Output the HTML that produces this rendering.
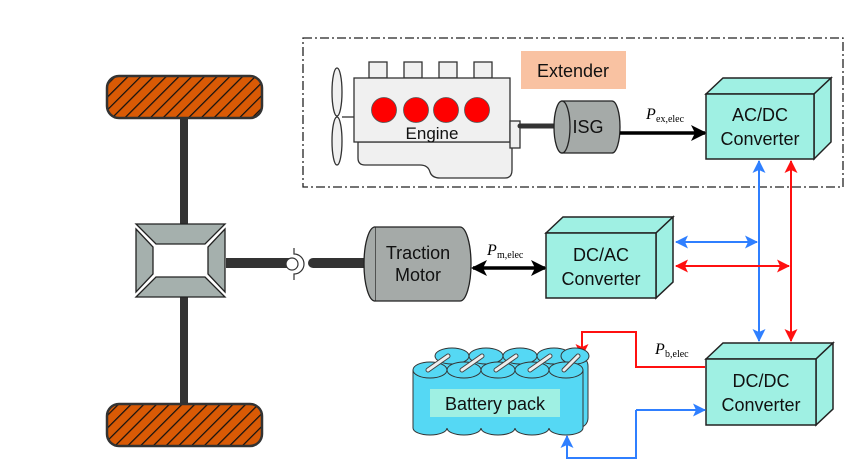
<!DOCTYPE html>
<html><head><style>body{margin:0;background:#fff}svg{display:block}text{font-family:"Liberation Sans",sans-serif}text.s{font-family:"Liberation Serif",serif}</style></head><body>
<svg width="850" height="468" viewBox="0 0 850 468" xmlns="http://www.w3.org/2000/svg">
<defs>
<pattern id="hatch" width="9" height="9" patternUnits="userSpaceOnUse" patternTransform="rotate(45)"><rect width="9" height="9" fill="#d95a05"/><line x1="0" y1="0" x2="0" y2="9" stroke="#111" stroke-width="2.5"/></pattern>
<marker id="akb" markerWidth="16" markerHeight="16" refX="14" refY="8" orient="auto-start-reverse" markerUnits="userSpaceOnUse"><path d="M0,0 L16,8 L0,16 L4,8Z" fill="#000"/></marker>
<marker id="ab" markerWidth="13" markerHeight="13" refX="12" refY="6.5" orient="auto-start-reverse" markerUnits="userSpaceOnUse"><path d="M0,0 L13,6.5 L0,13 L3,6.5Z" fill="#2f7fff"/></marker>
<marker id="ar" markerWidth="13" markerHeight="13" refX="12" refY="6.5" orient="auto-start-reverse" markerUnits="userSpaceOnUse"><path d="M0,0 L13,6.5 L0,13 L3,6.5Z" fill="#ff1010"/></marker>
</defs>
<rect x="303" y="38" width="540" height="149" fill="none" stroke="#222" stroke-width="1.3" stroke-dasharray="9,3,2,3"/>
<rect x="521" y="51" width="105" height="38" fill="#f9c2a2"/>
<text x="573" y="77" font-size="18" text-anchor="middle" fill="#111">Extender</text>
<g stroke="#333" stroke-width="1.3" fill="#f0f0f0">
<rect x="369" y="62" width="18" height="16"/><rect x="404" y="62" width="18" height="16"/><rect x="439" y="62" width="18" height="16"/><rect x="474" y="62" width="18" height="16"/>
<path d="M358,142 L358,158 Q358,165 365,165 L420,165 Q428,165 430,172 Q432,178 440,178 L505,178 Q512,178 512,170 L512,142Z"/>
<rect x="354" y="78" width="156" height="64"/>
<rect x="510" y="121" width="10" height="27"/>
<ellipse cx="337" cy="92" rx="5" ry="24"/><ellipse cx="337" cy="141" rx="5" ry="24"/>
<line x1="342" y1="117" x2="354" y2="117"/>
</g>
<g fill="#ff0000" stroke="#555" stroke-width="0.8"><circle cx="384" cy="110" r="12.5"/><circle cx="416" cy="110" r="12.5"/><circle cx="446" cy="110" r="12.5"/><circle cx="477" cy="110" r="12.5"/></g>
<text x="432" y="139" font-size="17" text-anchor="middle" fill="#111">Engine</text>
<line x1="520" y1="126" x2="556" y2="126" stroke="#333" stroke-width="5" stroke-linecap="round"/>
<path d="M562,101 L612,101 A8,26 0 0 1 612,153 L562,153 Z" fill="#a5aaa8" stroke="#222" stroke-width="1.3"/>
<ellipse cx="562" cy="127" rx="8" ry="26" fill="#a5aaa8" stroke="#222" stroke-width="1.3"/>
<text x="588" y="133" font-size="18" text-anchor="middle" fill="#111">ISG</text>
<line x1="620" y1="133" x2="705" y2="133" stroke="#000" stroke-width="3.5" marker-end="url(#akb)"/>
<text class="s" x="646" y="119" font-size="16" font-style="italic">P</text><text class="s" x="656" y="122" font-size="10">ex,elec</text>
<g stroke="#222" stroke-width="1.5" fill="#9ff0e3">
<path d="M706,94 L723,78 L831,78 L814,94Z"/><path d="M814,94 L831,78 L831,142 L814,159Z"/>
<rect x="706" y="94" width="108" height="65"/></g>
<text x="760" y="121" font-size="18" text-anchor="middle" fill="#111">AC/DC</text>
<text x="760" y="145" font-size="18" text-anchor="middle" fill="#111">Converter</text>
<rect x="180" y="115" width="8" height="115" fill="#333"/><rect x="180" y="295" width="8" height="110" fill="#333"/>
<rect x="107" y="76" width="155" height="42" rx="12" fill="url(#hatch)" stroke="#333" stroke-width="2.5"/>
<rect x="107" y="404" width="155" height="42" rx="12" fill="url(#hatch)" stroke="#333" stroke-width="2.5"/>
<g stroke="#222" stroke-width="1.3" fill="#a5b0ad">
<path d="M136,224 L225,224 L205,244 L156,244Z"/><path d="M136,297 L225,297 L205,277 L156,277Z"/>
<path d="M136,229 L153,247 L153,274 L136,292Z"/><path d="M225,229 L208,247 L208,274 L225,292Z"/></g>
<rect x="226" y="258" width="64" height="10" fill="#333"/>
<path d="M294,248 L294,254 A10,10 0 0 1 294,274 L294,280" fill="none" stroke="#333" stroke-width="1.2"/>
<circle cx="292" cy="264" r="6" fill="#fff" stroke="#333" stroke-width="1.2"/>
<line x1="313" y1="263" x2="375" y2="263" stroke="#333" stroke-width="10" stroke-linecap="round"/>
<path d="M375,227 L460,227 A11,37 0 0 1 460,301 L375,301 Z" fill="#a5aaa8" stroke="#222" stroke-width="1.3"/>
<path d="M375,227 A11,37 0 0 0 375,301" fill="#a5aaa8" stroke="#222" stroke-width="1.3"/>
<text x="418" y="259" font-size="18" text-anchor="middle" fill="#111">Traction</text>
<text x="418" y="281" font-size="18" text-anchor="middle" fill="#111">Motor</text>
<line x1="473" y1="268" x2="545" y2="268" stroke="#000" stroke-width="3.5" marker-start="url(#akb)" marker-end="url(#akb)"/>
<text class="s" x="487" y="255" font-size="16" font-style="italic">P</text><text class="s" x="497" y="258" font-size="10">m,elec</text>
<g stroke="#222" stroke-width="1.5" fill="#9ff0e3">
<path d="M546,233 L563,217 L673,217 L656,233Z"/><path d="M656,233 L673,217 L673,282 L656,298Z"/>
<rect x="546" y="233" width="110" height="65"/></g>
<text x="601" y="261" font-size="18" text-anchor="middle" fill="#111">DC/AC</text>
<text x="601" y="285" font-size="18" text-anchor="middle" fill="#111">Converter</text>
<line x1="759" y1="161" x2="759" y2="341" stroke="#2f7fff" stroke-width="2" marker-start="url(#ab)" marker-end="url(#ab)"/>
<line x1="791" y1="161" x2="791" y2="341" stroke="#ff1010" stroke-width="2" marker-start="url(#ar)" marker-end="url(#ar)"/>
<line x1="676" y1="242" x2="757" y2="242" stroke="#2f7fff" stroke-width="2" marker-start="url(#ab)" marker-end="url(#ab)"/>
<line x1="676" y1="266" x2="789" y2="266" stroke="#ff1010" stroke-width="2" marker-start="url(#ar)" marker-end="url(#ar)"/>
<g stroke="#222" stroke-width="1.5" fill="#9ff0e3">
<path d="M706,359 L723,343 L833,343 L816,359Z"/><path d="M816,359 L833,343 L833,409 L816,425Z"/>
<rect x="706" y="359" width="110" height="66"/></g>
<text x="761" y="387" font-size="18" text-anchor="middle" fill="#111">DC/DC</text>
<text x="761" y="411" font-size="18" text-anchor="middle" fill="#111">Converter</text>
<text class="s" x="655" y="354" font-size="16" font-style="italic">P</text><text class="s" x="665" y="357" font-size="10">b,elec</text>
<polyline points="705,367 636,367 636,332 582,332 582,356" fill="none" stroke="#ff1010" stroke-width="2" marker-end="url(#ar)"/>
<polyline points="636,410 636,458 567,458 567,436" fill="none" stroke="#2f7fff" stroke-width="2" marker-end="url(#ab)"/>
<line x1="636" y1="410" x2="705" y2="410" stroke="#2f7fff" stroke-width="2" marker-end="url(#ab)"/>
<g stroke="#333" stroke-width="1" fill="#55d8f4">
<rect x="438" y="356" width="150" height="72" rx="10"/>
<ellipse cx="452" cy="356" rx="17" ry="8"/><ellipse cx="486" cy="356" rx="17" ry="8"/><ellipse cx="520" cy="356" rx="17" ry="8"/><ellipse cx="554" cy="356" rx="17" ry="8"/><ellipse cx="575" cy="356" rx="14" ry="8"/>
<path d="M413,370 L413,428 A17,7 0 0 0 447,428 A17,7 0 0 0 481,428 A17,7 0 0 0 515,428 A17,7 0 0 0 549,428 A17,7 0 0 0 583,428 L583,370Z"/>
<ellipse cx="430" cy="370" rx="17" ry="8"/><ellipse cx="464" cy="370" rx="17" ry="8"/><ellipse cx="498" cy="370" rx="17" ry="8"/><ellipse cx="532" cy="370" rx="17" ry="8"/><ellipse cx="566" cy="370" rx="17" ry="8"/>
</g>
<g stroke="#444" stroke-width="5" stroke-linecap="round"><line x1="428" y1="370" x2="448" y2="356"/><line x1="462" y1="370" x2="482" y2="356"/><line x1="496" y1="370" x2="516" y2="356"/><line x1="530" y1="370" x2="550" y2="356"/><line x1="564" y1="370" x2="578" y2="356"/></g>
<g stroke="#eee" stroke-width="3" stroke-linecap="round"><line x1="428" y1="370" x2="448" y2="356"/><line x1="462" y1="370" x2="482" y2="356"/><line x1="496" y1="370" x2="516" y2="356"/><line x1="530" y1="370" x2="550" y2="356"/><line x1="564" y1="370" x2="578" y2="356"/></g>
<rect x="430" y="389" width="130" height="28" fill="#9ff0e3"/>
<text x="495" y="410" font-size="18" text-anchor="middle" fill="#111">Battery pack</text>
</svg>
</body></html>
